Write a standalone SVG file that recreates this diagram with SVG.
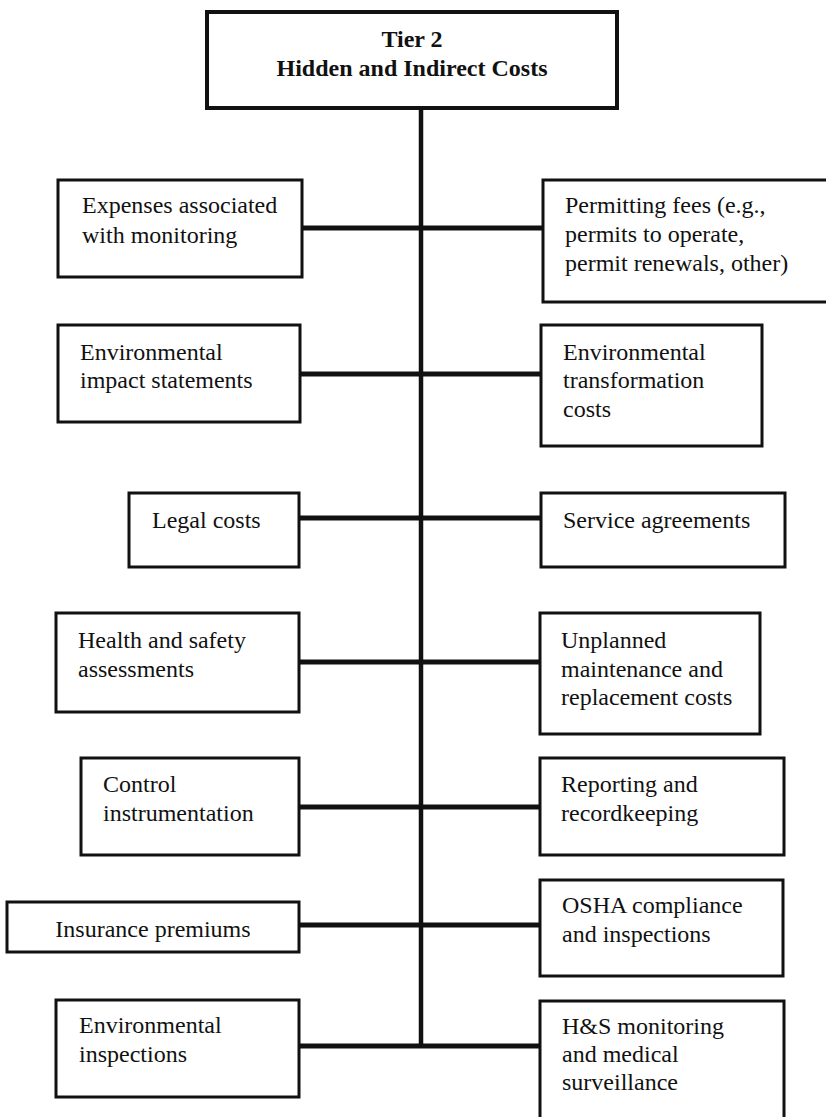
<svg xmlns="http://www.w3.org/2000/svg" width="826" height="1117" viewBox="0 0 826 1117">
  <style>
    .box { fill: #fff; stroke: #111; stroke-width: 3; }
    .head { fill: #fff; stroke: #111; stroke-width: 4; }
    .wire { stroke: #111; stroke-width: 5; fill: none; stroke-linecap: butt; }
    .trunk { stroke: #111; stroke-width: 4.5; fill: none; }
    text { font-family: "Liberation Serif", "Times New Roman", serif; font-size: 24px; fill: #111; }
    .title { font-weight: bold; text-anchor: middle; }
  </style>

  <!-- connectors: central trunk and horizontal branches -->
  <g id="connectors">
    <line class="trunk" x1="421" y1="108" x2="421" y2="1048"/>
    <line class="wire" x1="302" y1="228" x2="543" y2="228"/>
    <line class="wire" x1="300" y1="374" x2="541" y2="374"/>
    <line class="wire" x1="299" y1="518" x2="541" y2="518"/>
    <line class="wire" x1="299" y1="662" x2="540" y2="662"/>
    <line class="wire" x1="299" y1="807" x2="540" y2="807"/>
    <line class="wire" x1="299" y1="925" x2="540" y2="925"/>
    <line class="wire" x1="299" y1="1046" x2="540" y2="1046"/>
  </g>

  <g id="tier2">
    <rect class="head" x="207" y="12" width="410" height="96"/>
    <text class="title" x="412" y="47">Tier 2</text>
    <text class="title" x="412" y="76">Hidden and Indirect Costs</text>
  </g>

  <!-- left column -->
  <g id="monitoring-expenses">
    <rect class="box" x="58" y="180" width="244" height="97"/>
    <text x="82" y="213">Expenses associated</text>
    <text x="82" y="243">with monitoring</text>
  </g>
  <g id="impact-statements">
    <rect class="box" x="58" y="325" width="242" height="97"/>
    <text x="80" y="360">Environmental</text>
    <text x="80" y="388">impact statements</text>
  </g>
  <g id="legal-costs">
    <rect class="box" x="129" y="493" width="170" height="74"/>
    <text x="152" y="528">Legal costs</text>
  </g>
  <g id="health-safety">
    <rect class="box" x="56" y="613" width="243" height="99"/>
    <text x="78" y="648">Health and safety</text>
    <text x="78" y="677">assessments</text>
  </g>
  <g id="control-instrumentation">
    <rect class="box" x="81" y="758" width="218" height="97"/>
    <text x="103" y="792">Control</text>
    <text x="103" y="821">instrumentation</text>
  </g>
  <g id="insurance">
    <rect class="box" x="7" y="902" width="292" height="50"/>
    <text x="153" y="937" text-anchor="middle">Insurance premiums</text>
  </g>
  <g id="env-inspections">
    <rect class="box" x="56" y="1000" width="243" height="97"/>
    <text x="79" y="1033">Environmental</text>
    <text x="79" y="1062">inspections</text>
  </g>

  <!-- right column -->
  <g id="permitting-fees">
    <rect class="box" x="543" y="180" width="290" height="122"/>
    <text x="565" y="213">Permitting fees (e.g.,</text>
    <text x="565" y="242">permits to operate,</text>
    <text x="565" y="271">permit renewals, other)</text>
  </g>
  <g id="transformation-costs">
    <rect class="box" x="541" y="325" width="221" height="121"/>
    <text x="563" y="360">Environmental</text>
    <text x="563" y="388">transformation</text>
    <text x="563" y="417">costs</text>
  </g>
  <g id="service-agreements">
    <rect class="box" x="541" y="493" width="244" height="74"/>
    <text x="563" y="528">Service agreements</text>
  </g>
  <g id="unplanned-maintenance">
    <rect class="box" x="540" y="613" width="220" height="121"/>
    <text x="561" y="648">Unplanned</text>
    <text x="561" y="677">maintenance and</text>
    <text x="561" y="705">replacement costs</text>
  </g>
  <g id="reporting">
    <rect class="box" x="540" y="758" width="244" height="97"/>
    <text x="561" y="792">Reporting and</text>
    <text x="561" y="821">recordkeeping</text>
  </g>
  <g id="osha">
    <rect class="box" x="540" y="880" width="243" height="96"/>
    <text x="562" y="913">OSHA compliance</text>
    <text x="562" y="942">and inspections</text>
  </g>
  <g id="hs-monitoring">
    <rect class="box" x="540" y="1001" width="244" height="130"/>
    <text x="562" y="1034">H&amp;S monitoring</text>
    <text x="562" y="1062">and medical</text>
    <text x="562" y="1090">surveillance</text>
  </g>
</svg>
